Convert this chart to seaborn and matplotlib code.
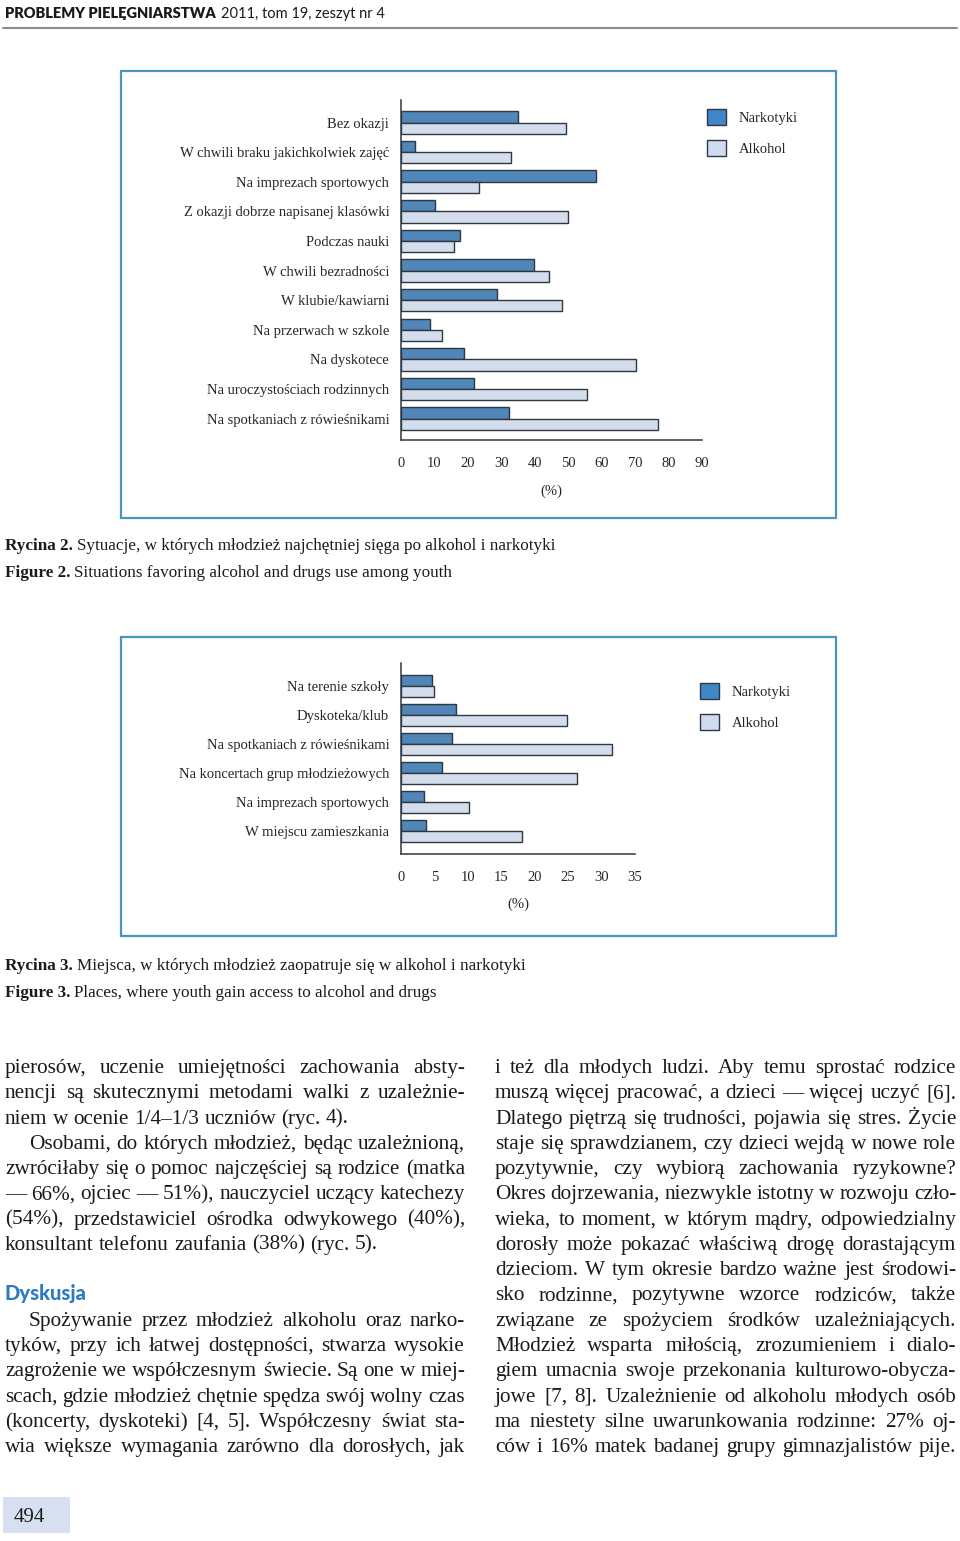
import numpy as np
import pandas as pd
import matplotlib
matplotlib.use('Agg')
import matplotlib.pyplot as plt
import seaborn as sns
from matplotlib.patches import Patch, Rectangle
from matplotlib.lines import Line2D

# data - figure 2 (situations)
sit_cats = ['Bez okazji', 'W chwili braku jakichkolwiek zajęć', 'Na imprezach sportowych',
            'Z okazji dobrze napisanej klasówki', 'Podczas nauki', 'W chwili bezradności',
            'W klubie/kawiarni', 'Na przerwach w szkole', 'Na dyskotece',
            'Na uroczystościach rodzinnych', 'Na spotkaniach z rówieśnikami']
sit_narko = [35, 4.3, 58.3, 10.2, 17.6, 39.9, 28.8, 8.7, 18.8, 21.7, 32.4]
sit_alko = [49.2, 32.9, 23.3, 49.9, 15.8, 44.2, 48, 12.4, 70.2, 55.5, 76.7]

# data - figure 3 (places)
pl_cats = ['Na terenie szkoły', 'Dyskoteka/klub', 'Na spotkaniach z rówieśnikami',
           'Na koncertach grup młodzieżowych', 'Na imprezach sportowych', 'W miejscu zamieszkania']
pl_narko = [4.7, 8.3, 7.7, 6.1, 3.5, 3.7]
pl_alko = [5.0, 24.8, 31.6, 26.3, 10.2, 18.1]

series = ['Narkotyki', 'Alkohol']

# page text
header_bold = 'PROBLEMY PIELĘGNIARSTWA'
header_rest = '2011, tom 19, zeszyt nr 4'
cap2 = [('Rycina 2.', 'Sytuacje, w których młodzież najchętniej sięga po alkohol i narkotyki'),
        ('Figure 2.', 'Situations favoring alcohol and drugs use among youth')]
cap3 = [('Rycina 3.', 'Miejsca, w których młodzież zaopatruje się w alkohol i narkotyki'),
        ('Figure 3.', 'Places, where youth gain access to alcohol and drugs')]

# (slot, indent, justified, text)
left_lines = [
    (0, 0, True, 'pierosów, uczenie umiejętności zachowania absty-'),
    (1, 0, True, 'nencji są skutecznymi metodami walki z uzależnie-'),
    (2, 0, False, 'niem w ocenie 1/4–1/3 uczniów (ryc. 4).'),
    (3, 24, True, 'Osobami, do których młodzież, będąc uzależnioną,'),
    (4, 0, True, 'zwróciłaby się o pomoc najczęściej są rodzice (matka'),
    (5, 0, True, '— 66%, ojciec — 51%), nauczyciel uczący katechezy'),
    (6, 0, True, '(54%), przedstawiciel ośrodka odwykowego (40%),'),
    (7, 0, False, 'konsultant telefonu zaufania (38%) (ryc. 5).'),
    (10, 24, True, 'Spożywanie przez młodzież alkoholu oraz narko-'),
    (11, 0, True, 'tyków, przy ich łatwej dostępności, stwarza wysokie'),
    (12, 0, True, 'zagrożenie we współczesnym świecie. Są one w miej-'),
    (13, 0, True, 'scach, gdzie młodzież chętnie spędza swój wolny czas'),
    (14, 0, True, '(koncerty, dyskoteki) [4, 5]. Współczesny świat sta-'),
    (15, 0, True, 'wia większe wymagania zarówno dla dorosłych, jak'),
]
heading = (9, 'Dyskusja')
right_lines = [
    'i też dla młodych ludzi. Aby temu sprostać rodzice',
    'muszą więcej pracować, a dzieci — więcej uczyć [6].',
    'Dlatego piętrzą się trudności, pojawia się stres. Życie',
    'staje się sprawdzianem, czy dzieci wejdą w nowe role',
    'pozytywnie, czy wybiorą zachowania ryzykowne?',
    'Okres dojrzewania, niezwykle istotny w rozwoju czło-',
    'wieka, to moment, w którym mądry, odpowiedzialny',
    'dorosły może pokazać właściwą drogę dorastającym',
    'dzieciom. W tym okresie bardzo ważne jest środowi-',
    'sko rodzinne, pozytywne wzorce rodziców, także',
    'związane ze spożyciem środków uzależniających.',
    'Młodzież wsparta miłością, zrozumieniem i dialo-',
    'giem umacnia swoje przekonania kulturowo-obycza-',
    'jowe [7, 8]. Uzależnienie od alkoholu młodych osób',
    'ma niestety silne uwarunkowania rodzinne: 27% oj-',
    'ców i 16% matek badanej grupy gimnazjalistów pije.',
]
page_no = '494'

# colours
C_N = '#3f87c9'
C_A = '#cfdcf0'
EDGE = '#2f3740'
FRAME = '#4a94c0'
BLUE_HEAD = '#2a7cc0'

sns.set_style('white')
plt.rcParams['font.family'] = ['Liberation Serif', 'DejaVu Serif']

W, H = 960, 1541
fig = plt.figure(figsize=(W / 100, H / 100), dpi=100)
renderer = fig.canvas.get_renderer()


def fx(px):
    return px / W


def fy(py):
    return 1 - py / H


def draw_chart(box, cats, narko, alko, xmax, step, ylim, leg_xy, lab_pad):
    left, top, right, bottom = box
    ax = fig.add_axes([fx(left), fy(bottom), (right - left) / W, (bottom - top) / H])
    df = pd.DataFrame({'cat': cats * 2,
                       'val': narko + alko,
                       'grp': [series[0]] * len(cats) + [series[1]] * len(cats)})
    sns.barplot(data=df, x='val', y='cat', hue='grp', hue_order=series,
                palette={series[0]: C_N, series[1]: C_A}, orient='h', width=0.76,
                errorbar=None, edgecolor=EDGE, linewidth=1, legend=False, ax=ax)
    ax.set_xlim(0, xmax)
    ax.set_xticks(np.arange(0, xmax + 1, step))
    ax.set_ylim(*ylim)
    ax.set_ylabel('')
    ax.set_xlabel('(%)', fontsize=10.5, labelpad=lab_pad)
    for s in ['top', 'right']:
        ax.spines[s].set_visible(False)
    for s in ['left', 'bottom']:
        ax.spines[s].set_color(EDGE)
        ax.spines[s].set_linewidth(1.1)
    ax.tick_params(axis='y', length=0, pad=8.5, labelsize=10.5)
    ax.tick_params(axis='x', direction='out', length=6, width=1, color=EDGE, pad=6, labelsize=10.5)
    ax.patch.set_alpha(0)
    handles = [Patch(facecolor=C_N, edgecolor=EDGE, lw=1, label=series[0]),
               Patch(facecolor=C_A, edgecolor=EDGE, lw=1, label=series[1])]
    fig.legend(handles=handles, loc='upper left', bbox_to_anchor=(fx(leg_xy[0]), fy(leg_xy[1])),
               bbox_transform=fig.transFigure, frameon=False, fontsize=10.5,
               handlelength=1.3, handleheight=1.3, labelspacing=1.05, handletextpad=0.9,
               borderpad=0, borderaxespad=0)
    return ax


def frame(x0, y0, x1, y1):
    fig.add_artist(Rectangle((fx(x0), fy(y1)), (x1 - x0) / W, (y1 - y0) / H,
                             transform=fig.transFigure, fill=False, ec=FRAME, lw=1.6))


def runs(x0, yb, parts, size, family, gap=4):
    x = x0
    for txt, weight, color in parts:
        t = fig.text(fx(x), fy(yb), txt, fontsize=size, fontweight=weight, color=color,
                     family=family, va='baseline', ha='left')
        x += t.get_window_extent(renderer).width + gap


def text_line(x0, x1, yb, text, justify, size=15.3):
    words = text.split()
    objs = [fig.text(fx(x0), fy(yb), w, fontsize=size, va='baseline', ha='left', color='#1a1a1a')
            for w in words]
    ws = [o.get_window_extent(renderer).width for o in objs]
    if justify and len(words) > 1:
        gap = max((x1 - x0 - sum(ws)) / (len(words) - 1), 2)
    else:
        gap = 0.25 * size * 100 / 72
    x = x0
    for o, w in zip(objs, ws):
        o.set_x(fx(x))
        x += w + gap


# header
runs(5, 18, [(header_bold, 'heavy', '#1a1a1a'), (header_rest, 'normal', '#1a1a1a')], 10.5,
     ['Lato', 'DejaVu Sans'], gap=5)
fig.add_artist(Line2D([fx(3), fx(957)], [fy(28), fy(28)], color='#8c8c8c', lw=1.5))

# figure 2
frame(121, 71, 836, 518)
draw_chart((401, 100, 702, 440), sit_cats, sit_narko, sit_alko, 90, 10,
           (10.72, -0.76), (707, 109), 11)
for i, (b, r) in enumerate(cap2):
    runs(5, 550 + 27 * i, [(b, 'bold', '#1a1a1a'), (r, 'normal', '#1a1a1a')], 12.3, ['Liberation Serif'])

# figure 3
frame(121, 637, 836, 936)
draw_chart((401, 663, 635, 854), pl_cats, pl_narko, pl_alko, 35, 5,
           (5.79, -0.79), (700, 683), 10)
for i, (b, r) in enumerate(cap3):
    runs(5, 970 + 27 * i, [(b, 'bold', '#1a1a1a'), (r, 'normal', '#1a1a1a')], 12.3, ['Liberation Serif'])

# body text, two columns
LINE0, STEP = 1073, 25.27
for slot, indent, just, txt in left_lines:
    text_line(5 + indent, 465, LINE0 + STEP * slot, txt, just)
fig.text(fx(5), fy(LINE0 + STEP * heading[0]), heading[1], fontsize=14.5, fontweight='black',
         color=BLUE_HEAD, family=['Lato', 'DejaVu Sans'], va='baseline', ha='left')
for i, txt in enumerate(right_lines):
    text_line(495, 956, LINE0 + STEP * i, txt, True)

# page number
fig.add_artist(Rectangle((fx(3), fy(1533)), 67 / W, 36 / H, transform=fig.transFigure,
                         fc='#d6e0f0', ec='none'))
fig.text(fx(14), fy(1522), page_no, fontsize=15, color='#1a1a1a', va='baseline', ha='left')

fig.savefig('out.png', dpi=100, facecolor='white')
